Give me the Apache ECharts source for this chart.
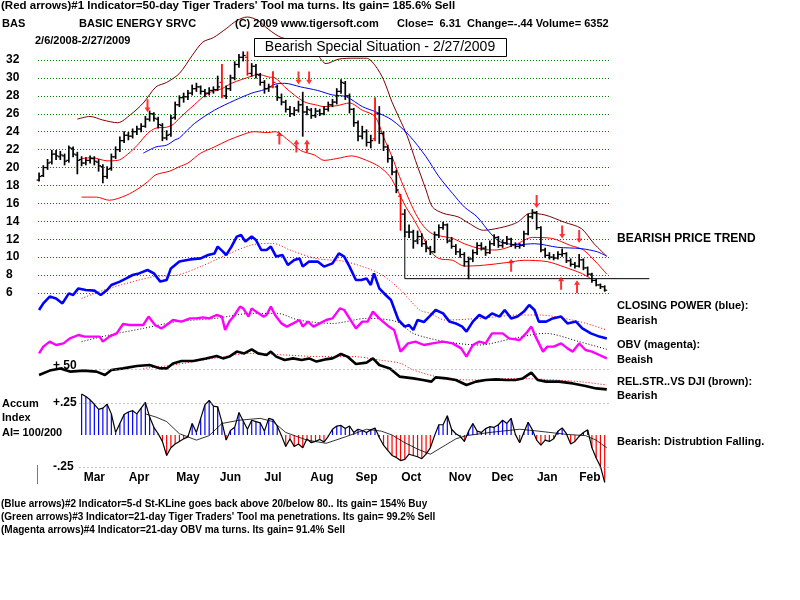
<!DOCTYPE html>
<html>
<head>
<meta charset="utf-8">
<title>BAS - tigersoft chart</title>
<script src="https://cdn.jsdelivr.net/npm/echarts@6/dist/echarts.min.js"></script>
</head>
<body style="margin:0;background:#fff">
<div id="main" style="width:800px;height:600px"></div>
<script type="text/javascript">
// price bars, one every 2 trading days (day index = i*2), 2/6/2008 .. 2/27/2009
var barOpen = [18.6,19.1,20.0,20.6,21.5,21.2,21.3,20.8,22.1,21.4, 20.9,20.5,20.8,21.0,20.6,20.1,19.0,19.9,21.2,22.0,
  23.0,23.6,23.5,24.0,24.3,24.6,25.4,26.0,25.4,24.7, 23.3,23.7,25.6,27.0,27.8,27.9,28.3,28.8,29.0,28.5,
  28.3,28.6,28.7,29.5,28.0,28.8,30.0,31.5,32.3,32.3, 30.5,31.3,30.3,29.5,28.8,29.0,29.0,27.8,27.3,26.5,
  26.0,26.4,27.0,26.2,26.4,25.8,26.3,26.0,26.5,27.0, 27.3,28.5,29.4,28.0,26.5,25.0,23.5,24.0,22.8,23.2,
  26.0,23.8,22.3,21.0,19.5,16.8,14.8,12.8,12.8,11.8, 12.3,11.5,11.0,10.6,12.5,13.3,13.6,11.8,11.2,10.6,
  10.3,9.5,9.8,10.5,11.3,11.0,10.5,11.5,12.2,11.3, 11.6,12.0,11.4,11.2,11.3,12.6,14.5,15.0,13.3,10.8,
  10.2,10.0,9.9,10.3,10.4,9.6,9.2,9.0,9.7,8.8, 8.1,7.4,6.9,6.7];
var barHigh = [19.4,20.2,20.9,21.9,21.9,21.8,21.5,22.4,22.3,21.7, 21.2,21.1,21.3,21.2,20.9,20.3,20.1,21.5,22.3,23.4,
  24.0,23.9,24.3,24.6,24.9,25.7,26.3,26.1,25.6,24.9, 24.1,25.8,27.3,28.0,28.3,28.6,29.2,29.4,29.1,28.7,
  28.9,29.0,30.2,31.5,29.1,30.3,31.8,32.6,32.9,32.9, 31.6,31.5,30.5,29.7,29.3,30.7,29.2,28.2,27.5,26.8,
  26.7,27.4,28.4,26.8,26.6,26.6,26.5,26.8,27.3,27.6, 28.8,29.8,29.6,28.2,26.6,25.2,24.6,24.2,23.6,27.8,
  26.8,24.0,22.5,21.2,19.7,17.0,15.3,13.6,13.0,12.9, 12.6,11.8,11.2,12.8,13.6,13.9,13.7,12.2,11.4,10.9,
  10.5,10.0,10.8,11.6,11.6,11.2,11.8,12.5,12.3,11.9, 12.3,12.1,11.6,11.5,12.9,14.8,15.3,15.1,13.4,11.0,
  10.5,10.3,10.6,10.9,10.5,9.8,9.4,10.3,9.8,8.9, 8.2,7.5,7.0,6.8];
var barLow = [18.5,19.0,19.8,20.4,20.9,20.9,20.3,20.6,21.2,19.3, 20.2,20.3,20.5,20.3,19.6,18.3,18.8,19.7,21.0,21.8,
  22.8,23.1,23.3,23.7,24.0,24.5,25.2,25.2,24.4,23.0, 23.1,23.5,25.4,26.8,27.3,27.6,28.1,28.5,28.2,27.9,
  28.1,28.3,28.6,27.8,27.7,28.6,29.8,31.2,31.9,30.3, 30.2,30.0,29.2,28.3,28.5,28.9,27.5,27.0,26.2,25.7,
  25.8,26.2,23.5,25.9,25.5,25.6,25.8,25.9,26.3,26.8, 27.1,28.3,27.6,26.1,24.6,23.0,23.2,22.4,22.2,23.0,
  22.7,21.9,20.6,19.2,17.2,13.0,12.3,12.2,11.0,11.5, 11.2,10.6,10.3,10.5,12.2,13.1,11.6,11.0,10.3,10.0,
  9.0,7.6,9.5,10.3,10.8,10.2,10.4,11.3,11.1,11.1, 11.4,11.2,11.0,11.0,11.2,12.5,14.3,13.1,10.6,10.0,
  9.8,9.7,9.8,10.1,9.4,9.0,8.8,8.9,8.6,7.9, 7.2,6.8,6.5,6.2];
var barClose = [19.0,20.0,20.5,21.5,21.3,21.4,20.7,22.2,21.5,20.8, 20.5,20.8,21.0,20.7,20.2,19.0,19.8,21.2,22.0,23.0,
  23.6,23.5,24.0,24.3,24.6,25.4,26.0,25.5,24.8,23.3, 23.6,25.5,27.0,27.8,27.9,28.3,28.8,29.0,28.5,28.3,
  28.6,28.7,29.0,28.0,28.8,30.0,31.5,32.3,32.5,30.5, 31.3,30.4,29.5,28.8,29.0,29.5,27.8,27.3,26.5,26.0,
  26.4,27.0,26.2,26.5,25.8,26.3,26.0,26.5,27.0,27.3, 28.5,29.5,28.0,26.5,25.0,23.5,24.0,22.8,23.0,26.0,
  23.8,22.3,21.0,19.5,17.5,14.8,12.8,12.8,11.8,12.3, 11.5,11.0,10.6,12.5,13.3,13.6,11.8,11.2,10.6,10.3,
  9.5,9.8,10.5,11.3,11.0,10.5,11.5,12.2,11.3,11.6, 12.0,11.4,11.2,11.3,12.6,14.5,15.0,13.3,10.8,10.2,
  10.0,9.9,10.3,10.4,9.6,9.2,9.0,9.7,8.8,8.1, 7.4,6.9,6.7,6.31];
var redBarDays = [86, 98, 110, 158, 170];

// bands and moving averages [day, price]
var upperBand = [[18,25.4],[24,25.7],[30,25.3],[37,25.0],[43,25.9],[49,27.2],[55,29.0],[60,29.5],[66,30.5],[72,32.5],
  [77,34.0],[82,34.5],[88,35.5],[93,36.4],[98,36.8],[103,36.4],[108,35.4],[114,34.5],[120,34.3],[126,34.1],
  [131,32.6],[135,31.6],[141,32.1],[148,32.2],[154,32.2],[158,31.4],[162,29.8],[166,27.3],[173,23.6],[177,20.8],
  [182,17.5],[185,15.6],[190,14.9],[197,14.5],[202,13.8],[209,13.0],[219,13.4],[225,13.9],[231,14.9],[238,14.7],
  [247,13.9],[255,13.2],[261,11.5],[267,10.1]];
var innerMA = [[20,21.0],[25,21.1],[32,20.75],[37,20.8],[43,21.75],[47,22.7],[51,23.8],[55,24.4],[60,24.5],[63,24.8],
  [66,25.5],[73,27.0],[79.5,28.3],[86,28.8],[90.5,29.4],[95,29.8],[100,30.2],[103,30.4],[108,30.1],[111,30.0],
  [115.5,29.0],[120,28.1],[125,27.3],[130,27.0],[134,26.8],[140,26.9],[146,27.2],[152,26.4],[158,25.7],[162,23.4],
  [166,21.2],[169.5,19.0],[173.5,16.7],[177,14.9],[181,13.4],[185,12.6],[190,12.3],[194.5,12.1],[200,11.5],[208,10.9],
  [215,10.8],[224,11.4],[232,12.2],[241,12.1],[250,11.3],[256,10.8],[262.5,9.3],[267,8.1]];
var blueMA = [[49,21.6],[55,22.3],[60,22.5],[64,23.1],[66,23.3],[73,24.9],[82.5,26.4],[92,27.5],[100,28.3],[106,28.7],
  [111,29.3],[115.5,29.4],[123,29.0],[131,28.6],[138,28.1],[144.5,27.9],[152,26.8],[158.5,26.2],[166,25.3],[174,23.6],
  [182,21.2],[188,19.0],[194.5,17.1],[200,15.6],[206,14.5],[212.5,12.6],[217,11.7],[225,11.4],[233,11.5],[244,11.1],
  [255,10.95],[262.5,10.6],[267,10.1]];
var lowerBand = [[20,16.7],[27,16.7],[33,16.35],[41,16.9],[47,17.7],[51,18.4],[55,19.2],[61.5,19.6],[66,20.1],[70,20.5],
  [76,21.6],[82.5,22.3],[89,23.05],[95,23.6],[101,24.0],[107.5,23.9],[111,24.0],[117,23.1],[123,21.9],[129.5,21.4],
  [134,20.8],[140,21.0],[147,21.3],[154,20.8],[160,20.1],[165,19.0],[168.5,17.5],[172.5,15.6],[176.5,14.1],[180.5,12.3],
  [183.5,10.8],[188,9.85],[194.5,9.65],[200,9.0],[209,9.1],[220,9.4],[228,9.65],[239,9.5],[247,8.9],[255,8.2],[259.5,7.6]];
var supportLine = [[172,12.6],[172,7.6],[287,7.6]];

// signal arrows [day, price]
var sellArrows = [[51,26.9],[112,32.2],[114,32.2],[122,30.0],[127,30.0],[234,16.2],[246,12.8],[254,12.3]];
var buyArrows = [[113,23.3],[121,22.4],[126,22.4],[222,9.1],[245.5,7.1],[253,6.7]];

// lower indicators (unscaled units) [day, value]
var closingPower = [[0,45],[2,48.3],[5,51.7],[8,50.8],[11,48.3],[14,53.3],[16,52.5],[18.5,55.8],[22,55],[26,54.7],
  [29,52.5],[32,55],[34,57.5],[38,59.2],[41,60.8],[44,62.5],[47,63.3],[51,65],[54,63.3],[57,59.2],[60,60],[62,65.8],
  [66,69.2],[71,70.3],[76,70.8],[79.5,72.5],[82.5,73.3],[84,76.7],[86.5,74.2],[88,72.5],[90.5,76.7],[93,81.7],[95,82.5],
  [97,79.2],[100,81.7],[102,80],[104.5,75],[107,75],[109,76.7],[111.5,71.7],[114.5,72.5],[117,67.5],[120,70],[122.5,70.8],
  [124,66.7],[127,69.2],[131,69.2],[134,66.7],[138,68.3],[141,73.3],[143.5,71.7],[146,66.7],[149,60],[151.5,60],[154,60.8],
  [156,57.5],[157.5,63.3],[160,55.8],[163,52.5],[165.5,50],[169,40],[172,36.7],[174,37.5],[176,35],[178,40],[181,39],
  [183.5,41.7],[186.5,45],[190,43.3],[193,39.2],[196,38.3],[199,36.7],[201,34.2],[204,39.2],[207,42.5],[210,40.8],
  [213,43.3],[216.5,41.7],[219,45],[222,40.8],[225,41.7],[228,44.2],[230.5,47.5],[233,45],[235,39.2],[238.5,39.2],
  [241.5,40.8],[245.5,41.7],[248.5,38.3],[252.5,39.2],[255.5,35.8],[259.5,33.3],[263.5,31.7],[267,30.8]];
var closingPowerMA = [[20,50.8],[33,55.8],[54,61.7],[65,62.5],[76,66.7],[88,72.5],[100,77.5],[110,78.3],[118,75],
  [130,70.8],[144,69.2],[160,63.3],[170,55],[179,45],[184,43.3],[191,40],[207,40.8],[226,42.5],[235,42.5],[254,39.2],[267,35]];
var obv = [[0,23.3],[2,26.7],[5,29.2],[8,27.5],[11.5,28.3],[14.5,30.8],[18.5,32.5],[21.5,31.7],[24.5,31.7],[28.5,31.7],
  [30,29.2],[33,31.7],[36.5,33.3],[39.5,38],[42.5,37.5],[46,37.5],[49,37.5],[51.5,41.7],[54.5,37.5],[57.5,35.8],[60,37.5],
  [63,40],[67,39.2],[71,40.8],[74,40.8],[77,41.3],[80,40.8],[83.5,42.5],[86,41.7],[87.5,35],[89.5,39.2],[92,42.5],
  [94.5,46.7],[96,45.8],[98.5,41.7],[100,45.8],[102,44.2],[105.5,41.7],[107,42.5],[109,46.7],[111,42.5],[114,38.3],
  [116.5,36.7],[119.5,38.3],[122.5,40],[124,36.7],[126.5,39.2],[129,36.7],[132,38.3],[135,40],[138,40.8],[141.5,45.8],
  [143.5,45],[146,40.8],[149,35.8],[152,39.2],[154.5,39.2],[157,44.2],[160,40.8],[164.5,36.7],[167,35],[170,24.2],
  [173.5,28.3],[177,29.2],[181,27.5],[185,28.3],[190,29.2],[194.5,28.3],[198.5,25.8],[201,21.7],[204,27.5],[207,29.2],
  [210,28.3],[213,33.3],[218,33.3],[221,30.8],[226,30],[229,33.3],[231.5,36.7],[233.5,31.7],[237,24.2],[239,26.7],
  [242,26.7],[245.5,28.3],[248.5,25.8],[251,24.2],[254,28.3],[257,25],[260,24.2],[263.5,22.5],[267,20.8]];
var obvMA = [[20,29.2],[33,32.5],[49,35.8],[65,39.2],[83,40.8],[100,43.3],[112,43.3],[122,40],[138,38.3],[154,40.8],
  [168,39.2],[176,33.3],[191,29.2],[207,27.5],[223,30.8],[238,33.3],[254,29.2],[267,25.3]];
var relStrength = [[0,12.5],[5,14.7],[10,15.8],[14.5,14.2],[21,14.7],[27,14.2],[31,12.5],[34,15],[39.5,15.8],[46,17],
  [52,17.5],[57,15.8],[60,15.8],[63,18.3],[67,19.5],[72.5,19.5],[78.5,20.8],[83.5,22],[86.5,20.8],[89.5,21.7],[93,24.2],
  [96.5,23.3],[100,25.3],[103,23.3],[107,22.5],[109,24.2],[111.5,21.7],[115.5,20],[119.5,20.8],[123.5,20],[127,20.8],
  [130.5,19.2],[134.5,20.3],[138,20.8],[142,23],[145,21.7],[149,18],[154,18.7],[157,20.8],[160,17.5],[165,15.8],
  [169.5,11.7],[176,10.8],[180.5,10],[184.5,9.2],[186.5,11.3],[191.5,10.8],[196,10],[201,7.5],[205.5,9.2],[210,10],
  [215,10.3],[219.5,10],[224,10],[227.5,10.8],[231.5,13.7],[234.5,10],[238.5,9.2],[244.5,9.2],[251,8.3],[257,7],
  [262,5.8],[267,5.3]];
var relStrengthMA = [[49,15.8],[63,17.5],[82,20.8],[100,23.3],[116,22.5],[132,21.7],[148,21.7],[160,20],[170,18.3],
  [176,15],[191,10.8],[207,10],[223,10.8],[238,10.3],[254,9.2],[267,7.5]];
var relStrengthRef = 15.5;

// accumulation index, one value every 2 days from day 20
var accumStartDay = 20;
var accum = [0.32,0.30,0.275,0.24,0.20,0.21,0.24,0.165,0.02,0.09,
  0.16,0.18,0.19,0.165,0.21,0.255,0.14,0.06,0.01,-0.05,
  -0.16,-0.10,-0.07,-0.05,-0.03,-0.015,0.09,0.02,0.13,0.235,
  0.27,0.225,0.22,0.10,-0.04,0.035,0.06,0.175,0.11,0.045,
  0.115,0.105,0.095,0.03,0.13,0.12,0.07,-0.005,-0.09,-0.03,
  -0.09,-0.07,-0.10,-0.03,-0.06,-0.05,-0.035,-0.055,-0.01,0.045,
  0.07,0.075,0.05,0.07,0.02,0.045,0.035,0.02,0.04,0.055,
  -0.02,-0.08,-0.12,-0.16,-0.175,-0.20,-0.19,-0.15,-0.16,-0.17,
  -0.185,-0.15,-0.10,-0.005,0.08,0.08,0.15,0.045,0.01,-0.01,
  -0.05,0.03,0.09,0.03,0.02,0.05,0.065,0.06,0.08,0.115,
  0.09,0.13,0.005,-0.06,0.02,0.10,0.04,-0.04,-0.08,-0.04,
  -0.05,-0.03,0.03,0.055,0.01,-0.07,-0.05,-0.01,0.02,0.04,
  -0.10,-0.18,-0.245,-0.37];
var accumMA = [[50,0.165],[55,0.14],[60,0.105],[66,0.01],[74,-0.04],[80,-0.005],[86,0.09],[94,0.115],[104,0.13],
  [110,0.105],[116,0.02],[126,-0.04],[135,-0.065],[144,-0.015],[154,0.045],[161,0.03],[166,0.0],[172,-0.06],[178,-0.11],
  [184,-0.15],[191,-0.08],[196,-0.03],[201,-0.005],[212,0.02],[226,0.045],[235,0.03],[248,0.005],[257,-0.005],
  [262,-0.04],[267,-0.1]];

var monthNames = ['Mar','Apr','May','Jun','Jul','Aug','Sep','Oct','Nov','Dec','Jan','Feb'];
var monthMid = [26, 47, 70, 90, 110, 133, 154, 175, 198, 218, 239, 259];

var FONT = '"Liberation Sans", Arial, sans-serif';
var myChart = echarts.init(document.getElementById('main'));

var ohlcData = barClose.map(function (c, i) {
  var day = i * 2;
  return [day, barOpen[i], barHigh[i], barLow[i], c, redBarDays.indexOf(day) >= 0 ? 1 : 0];
});
var accumData = accum.map(function (v, i) {
  return [accumStartDay + i * 2, v];
});

function renderBar(params, api) {
  var x = api.value(0);
  var hi = api.coord([x, api.value(2)]);
  var lo = api.coord([x, api.value(3)]);
  var op = api.coord([x, api.value(1)]);
  var cl = api.coord([x, api.value(4)]);
  var col = api.value(5) ? '#ff0000' : '#000000';
  return {
    type: 'group',
    children: [
      {type: 'line', shape: {x1: hi[0], y1: hi[1] - 0.5, x2: lo[0], y2: lo[1] + 0.5}, style: {stroke: col, lineWidth: 1.7}},
      {type: 'line', shape: {x1: op[0] - 2.5, y1: op[1], x2: op[0], y2: op[1]}, style: {stroke: col, lineWidth: 1.2}},
      {type: 'line', shape: {x1: cl[0], y1: cl[1], x2: cl[0] + 2.5, y2: cl[1]}, style: {stroke: col, lineWidth: 1.2}}
    ]
  };
}

function lineSeries(name, data, color, width, grid, dotted) {
  return {
    name: name, type: 'line', data: data, xAxisIndex: grid, yAxisIndex: grid,
    symbol: 'none', clip: false, smooth: dotted ? 0.3 : false,
    lineStyle: {color: color, width: width, type: dotted ? [1, 2] : 'solid'},
    silent: true, z: 4
  };
}
function bandSeries(name, data, color) {
  var s = lineSeries(name, data, color, 1, 0, false);
  s.smooth = 0.3;
  return s;
}

var downArrow = 'path://M2,0 L4,0 L4,9 L6,9 L3,14 L0,9 L2,9 Z';

function txt(x, y, text, size, bold, extra) {
  var s = {
    text: text, fill: '#000',
    font: (bold ? 'bold ' : '') + size + 'px ' + FONT,
    textVerticalAlign: 'middle', verticalAlign: 'middle'
  };
  if (extra) { for (var k in extra) s[k] = extra[k]; }
  return {type: 'text', x: x, y: y, z: 100, style: s};
}

// grid 3 uses the same scale as the price grid but is wider, so the support line can run past the last bar
var dayWidth = 572 / 269;

var option = {
  backgroundColor: '#ffffff',
  animation: false,
  textStyle: {fontFamily: FONT},
  grid: [
    {left: 38, width: 572, top: 60, height: 233},
    {left: 38, width: 572, top: 220, height: 180},
    {left: 38, width: 572, top: 403, height: 64},
    {left: 38, width: dayWidth * 290, top: 60, height: 233}
  ],
  xAxis: [
    {gridIndex: 0, type: 'value', min: -0.5, max: 268.5, show: false},
    {gridIndex: 1, type: 'value', min: -0.5, max: 268.5, show: false},
    {
      gridIndex: 2, type: 'value', min: -0.5, max: 268.5,
      axisLine: {show: false}, axisTick: {show: false}, splitLine: {show: false},
      axisLabel: {
        customValues: monthMid, margin: 5,
        color: '#000', fontWeight: 'bold', fontSize: 12,
        formatter: function (v) { return monthNames[monthMid.indexOf(v)] || ''; }
      }
    },
    {gridIndex: 3, type: 'value', min: -0.5, max: 289.5, show: false}
  ],
  yAxis: [
    {
      gridIndex: 0, type: 'value', min: 6, max: 32, interval: 2,
      axisLine: {show: false}, axisTick: {show: false},
      axisLabel: {color: '#000', fontWeight: 'bold', fontSize: 12, align: 'left', margin: 32},
      splitLine: {lineStyle: {color: '#008000', width: 1, type: [1, 2]}}
    },
    {gridIndex: 1, type: 'value', min: 0, max: 90, show: false},
    {
      gridIndex: 2, type: 'value', min: -0.25, max: 0.25, interval: 0.25,
      axisLine: {show: false}, axisTick: {show: false}, splitLine: {show: false},
      axisLabel: {
        inside: true, margin: 15, align: 'left', color: '#000', fontWeight: 'bold', fontSize: 12,
        formatter: function (v) { return v > 0 ? '+.25' : (v < 0 ? '-.25' : ''); }
      }
    },
    {gridIndex: 3, type: 'value', min: 6, max: 32, show: false}
  ],
  series: [
    bandSeries('upper band', upperBand, '#800000'),
    bandSeries('21-day ma', innerMA, '#ff0000'),
    bandSeries('50-day ma', blueMA, '#0000ff'),
    bandSeries('lower band', lowerBand, '#ff0000'),
    lineSeries('support', supportLine, '#000000', 1, 3, false),
    {
      name: 'price', type: 'custom', xAxisIndex: 0, yAxisIndex: 0,
      renderItem: renderBar, data: ohlcData, encode: {x: 0, y: [2, 3]}, z: 5, silent: true
    },
    {
      name: 'sell', type: 'scatter', xAxisIndex: 0, yAxisIndex: 0, data: sellArrows,
      symbol: downArrow, symbolSize: [6, 13], itemStyle: {color: '#ff0000'}, z: 6, silent: true
    },
    {
      name: 'buy', type: 'scatter', xAxisIndex: 0, yAxisIndex: 0, data: buyArrows,
      symbol: downArrow, symbolRotate: 180, symbolSize: [6, 13], itemStyle: {color: '#ff0000'}, z: 6, silent: true
    },
    lineSeries('cp ma', closingPowerMA, '#ff0000', 1, 1, true),
    lineSeries('closing power', closingPower, '#0000ff', 2.6, 1, false),
    lineSeries('obv ma', obvMA, '#000000', 1, 1, true),
    lineSeries('obv', obv, '#ff00ff', 2.4, 1, false),
    lineSeries('rs ma', relStrengthMA, '#ff0000', 1, 1, true),
    (function () {
      var s = lineSeries('rel str', relStrength, '#000000', 2.6, 1, false);
      s.markLine = {
        silent: true, symbol: 'none', label: {show: false},
        lineStyle: {color: '#a080a0', type: [1, 3], width: 1},
        data: [[{coord: [19, relStrengthRef]}, {coord: [268, relStrengthRef]}]]
      };
      return s;
    })(),
    {
      name: 'accum', type: 'bar', xAxisIndex: 2, yAxisIndex: 2, data: accumData,
      barWidth: 1.2, clip: false, silent: true,
      itemStyle: {color: function (p) { return p.value[1] >= 0 ? '#0000ff' : '#ff0000'; }},
      markLine: {
        silent: true, symbol: 'none', label: {show: false},
        lineStyle: {color: '#a080a0', type: [1, 3], width: 1},
        data: [
          [{coord: [19, 0.25]}, {coord: [268, 0.25]}],
          [{coord: [19, -0.25]}, {coord: [268, -0.25]}]
        ]
      }
    },
    lineSeries('accum line', accumData, '#000000', 1.2, 2, false),
    lineSeries('accum ma', accumMA, '#000000', 0.8, 2, false)
  ],
  graphic: [
    txt(1, 6, "(Red arrows)#1 Indicator=50-day Tiger Traders' Tool ma turns. Its gain= 185.6% Sell", 11.5, true),
    txt(2, 24, 'BAS', 11, true),
    txt(79, 24, 'BASIC ENERGY SRVC', 11, true),
    txt(235, 24, '(C) 2009 www.tigersoft.com', 11, true),
    txt(397, 24, 'Close=  6.31  Change=-.44 Volume= 6352', 11, true),
    txt(35, 41, '2/6/2008-2/27/2009', 11, true),
    {type: 'rect', z: 99, shape: {x: 254.5, y: 38.5, width: 252, height: 18}, style: {fill: '#fff', stroke: '#000', lineWidth: 1}},
    txt(380, 47.5, 'Bearish Special Situation - 2/27/2009', 14, false, {textAlign: 'center', align: 'center'}),
    txt(53, 366, '+.50', 12, true),
    txt(2, 404, 'Accum', 11, true),
    txt(2, 418, 'Index', 11, true),
    txt(2, 433, 'AI= 100/200', 11, true),
    {type: 'line', z: 99, shape: {x1: 37.5, y1: 465, x2: 37.5, y2: 484}, style: {stroke: '#a08000', lineWidth: 1}},
    txt(617, 239, 'BEARISH PRICE TREND', 12, true),
    txt(617, 306, 'CLOSING POWER (blue):', 11, true),
    txt(617, 321, 'Bearish', 11, true),
    txt(617, 345, 'OBV (magenta):', 11, true),
    txt(617, 360, 'Beaish', 11, true),
    txt(617, 382, 'REL.STR..VS DJI (brown):', 11, true),
    txt(617, 396, 'Bearish', 11, true),
    txt(617, 442, 'Bearish: Distrubtion Falling.', 11, true),
    txt(1, 504, '(Blue arrows)#2 Indicator=5-d St-KLine goes back above 20/below 80.. Its gain= 154% Buy', 10, true),
    txt(1, 517, "(Green arrows)#3 Indicator=21-day Tiger Traders' Tool ma penetrations. Its gain= 99.2% Sell", 10, true),
    txt(1, 530, '(Magenta arrows)#4 Indicator=21-day OBV ma turns. Its gain= 91.4% Sell', 10, true)
  ]
};

myChart.setOption(option);
</script>
</body>
</html>
